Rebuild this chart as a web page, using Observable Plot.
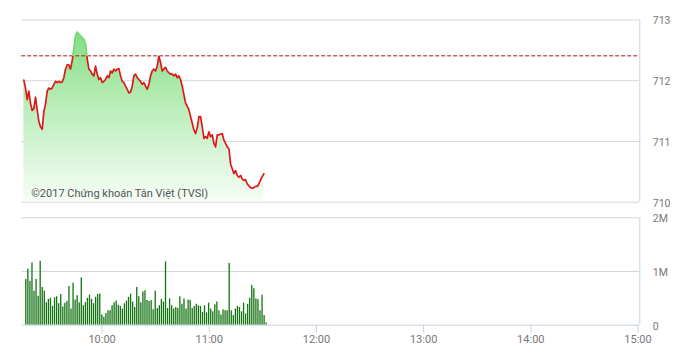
<!DOCTYPE html>
<html><head><meta charset="utf-8">
<script src="https://cdn.jsdelivr.net/npm/d3@7"></script>
<script src="https://cdn.jsdelivr.net/npm/@observablehq/plot@0.6"></script>
<style>
body{margin:0;background:#fff;font-family:Roboto,"Noto Sans",sans-serif;}
#wrap{position:relative;width:691px;height:352px;overflow:hidden;}
#wrap svg{position:absolute;left:0;}
</style></head><body><div id="wrap"></div>
<script>
// ---- data ----
const priceStart = "09:16:12";
const priceStepSeconds = 56;
const prices = [
712.01,711.88,711.69,711.83,711.63,711.51,711.54,711.73,711.52,711.33,
711.24,711.20,711.49,711.61,711.83,711.88,711.86,711.88,711.94,711.99,
711.97,711.99,711.97,711.98,712.05,712.19,712.26,712.26,712.19,712.33,
712.52,712.74,712.80,712.77,712.74,712.71,712.68,712.61,712.36,712.19,
712.16,712.11,712.08,712.24,712.11,712.02,712.05,711.97,711.99,712.02,
712.08,712.05,712.16,712.13,712.19,712.16,712.19,712.20,712.08,711.99,
711.97,711.91,711.86,711.80,711.81,711.91,712.08,712.11,712.05,712.02,
711.99,711.94,711.97,711.91,711.86,711.94,712.08,712.16,712.19,712.16,
712.24,712.41,712.30,712.16,712.19,712.22,712.16,712.13,712.11,712.11,
712.08,712.11,712.05,712.08,712.02,711.91,711.77,711.63,711.58,711.52,
711.41,711.30,711.19,711.13,711.22,711.41,711.41,711.24,711.05,711.08,
711.05,711.16,711.08,711.11,710.97,710.91,711.11,711.11,711.12,711.13,
711.02,710.97,710.91,710.88,710.63,710.55,710.47,710.52,710.44,710.41,
710.44,710.38,710.36,710.37,710.30,710.27,710.24,710.23,710.24,710.26,
710.26,710.30,710.37,710.42,710.47
];
const refPrice = 712.41;

const volumeStart = "09:17:18";
const volumeStepSeconds = 69;
const volumes = [ // millions
0.85,1.04,0.82,1.16,0.63,0.85,0.54,1.19,0.70,0.63,
0.42,0.48,0.50,0.35,0.51,0.53,0.40,0.57,0.34,0.41,
0.44,0.72,0.30,0.78,0.47,0.55,0.42,0.88,0.36,0.42,
0.50,0.56,0.48,0.40,0.52,0.57,0.58,0.19,0.15,0.22,
0.27,0.27,0.36,0.42,0.45,0.37,0.35,0.30,0.40,0.45,
0.52,0.58,0.43,0.33,0.70,0.53,0.42,0.62,
0.64,0.46,0.44,0.46,0.29,0.63,0.31,0.36,0.48,0.43,
1.18,0.31,0.49,0.36,0.30,0.33,0.31,0.53,0.39,0.49,
0.30,0.47,0.46,0.31,0.35,0.39,0.36,0.35,0.24,0.36,
0.23,0.41,0.30,0.25,0.38,0.43,0.27,0.19,0.29,0.27,
0.27,1.15,0.27,0.18,0.30,0.35,0.33,0.25,0.41,0.21,
0.39,0.50,0.74,0.68,0.49,0.48,0.27,0.56,0.18,0.04
];

const priceTicks = [710, 711, 712, 713];
const volumeTicks = [0, 1, 2];
const volumeTickLabels = ["0", "1M", "2M"];
const timeTicks = ["10:00", "11:00", "12:00", "13:00", "14:00", "15:00"];
const timeDomain = ["09:15", "15:00"];
const caption = "©2017 Chứng khoán Tân Việt (TVSI)";

// ---- helpers ----
const toTime = s => { const [h, m, sec = 0] = s.split(":").map(Number); return new Date(Date.UTC(2017, 0, 2, h, m, sec)); };
const priceData = prices.map((p, i) => ({time: new Date(+toTime(priceStart) + i * priceStepSeconds * 1000), price: p}));
const volumeData = volumes.map((v, i) => ({time: new Date(+toTime(volumeStart) + i * volumeStepSeconds * 1000), vol: v}));

const W = 691;
const xRange = [21.2, 637.5];
const mL = 21.2, mR = 691 - 639.3;
const gridColor = "#d6d6d6";
const borderColor = "#c9d3dc";
const textColor = "#777";

// ---- price panel ----
const topH = 210;
const pTop = 19.5, pBottom = 201.7;
const pricePlot = Plot.plot({
  width: W, height: topH,
  marginTop: pTop, marginBottom: topH - pBottom, marginLeft: mL, marginRight: mR,
  style: {fontFamily: "Roboto, sans-serif", fontSize: "11px", color: textColor, background: "transparent"},
  x: {type: "utc", domain: timeDomain.map(toTime), range: xRange, axis: null},
  y: {domain: [710, 713], axis: null},
  marks: [
    Plot.ruleY(priceTicks, {stroke: gridColor, strokeWidth: 1}),
    Plot.ruleX([toTime("15:00")], {dx: 1.8, stroke: borderColor}),
    Plot.areaY(priceData, {x: "time", y1: 710, y2: "price", fill: "url(#priceGrad)", curve: "linear"}),
    Plot.ruleY([refPrice], {stroke: "#a01818", strokeWidth: 1, strokeDasharray: "4,2"}),
    Plot.line(priceData, {x: "time", y: "price", stroke: "url(#lineGrad)", strokeWidth: 1.7}),
    Plot.axisY(priceTicks, {anchor: "right", tickSize: 0, tickPadding: 13, label: null, fill: textColor, fontSize: 10.5, dy: 1, tickFormat: d => String(d)}),
    Plot.text([caption], {frameAnchor: "bottom-left", dx: 9.5, dy: -8.5, lineAnchor: "middle", textAnchor: "start", fill: "#555", fontSize: 11})
  ]
});
pricePlot.style.top = "0px";

const topSvg = d3.select(pricePlot);
let yRef = NaN;
try { yRef = pricePlot.scale("y").apply(refPrice); } catch (e) {}
if (!isFinite(yRef)) yRef = pTop + (713 - refPrice) / 3 * (pBottom - pTop);
const defs = topSvg.insert("defs", ":first-child");
const grad = defs.append("linearGradient").attr("id", "priceGrad")
  .attr("gradientUnits", "userSpaceOnUse").attr("x1", 0).attr("x2", 0).attr("y1", pTop).attr("y2", pBottom);
grad.append("stop").attr("offset", "0").attr("stop-color", "#78dc78");
grad.append("stop").attr("offset", "0.5").attr("stop-color", "#bdeebd");
grad.append("stop").attr("offset", "1").attr("stop-color", "#f6fdf6");
const lg = defs.append("linearGradient").attr("id", "lineGrad")
  .attr("gradientUnits", "userSpaceOnUse").attr("x1", 0).attr("x2", 0).attr("y1", 0).attr("y2", topH);
const f = yRef / topH;
lg.append("stop").attr("offset", 0).attr("stop-color", "#74d874");
lg.append("stop").attr("offset", f).attr("stop-color", "#74d874");
lg.append("stop").attr("offset", f).attr("stop-color", "#dd1a1a");
lg.append("stop").attr("offset", 1).attr("stop-color", "#dd1a1a");

// ---- volume panel ----
const botTop = 210, botH = 142;
const volumePlot = Plot.plot({
  width: W, height: botH,
  marginTop: 217.3 - botTop, marginBottom: botTop + botH - 324.7, marginLeft: mL, marginRight: mR,
  style: {fontFamily: "Roboto, sans-serif", fontSize: "11px", color: textColor, background: "transparent"},
  x: {type: "utc", domain: timeDomain.map(toTime), range: xRange, axis: null},
  y: {domain: [0, 2], axis: null},
  marks: [
    Plot.ruleY([1, 2], {stroke: gridColor}),
    Plot.ruleX([toTime("15:00")], {dx: 1.8, stroke: borderColor}),
    Plot.ruleX(volumeData, {x: "time", y1: 0, y2: "vol", stroke: "#127312", strokeWidth: 1.3}),
    Plot.ruleY([0], {stroke: borderColor}),
    Plot.axisX(timeTicks.map(toTime), {anchor: "bottom", tickSize: 8, tickPadding: 2, stroke: borderColor, fill: textColor, fontSize: 11, tickFormat: d3.utcFormat("%H:%M"), label: null}),
    Plot.axisY(volumeTicks, {anchor: "right", tickSize: 0, tickPadding: 13, label: null, fill: textColor, fontSize: 10.5, dy: 1, tickFormat: d => volumeTickLabels[volumeTicks.indexOf(d)]})
  ]
});
volumePlot.style.top = botTop + "px";

const wrap = document.getElementById("wrap");
wrap.appendChild(pricePlot);
wrap.appendChild(volumePlot);
</script></body></html>
